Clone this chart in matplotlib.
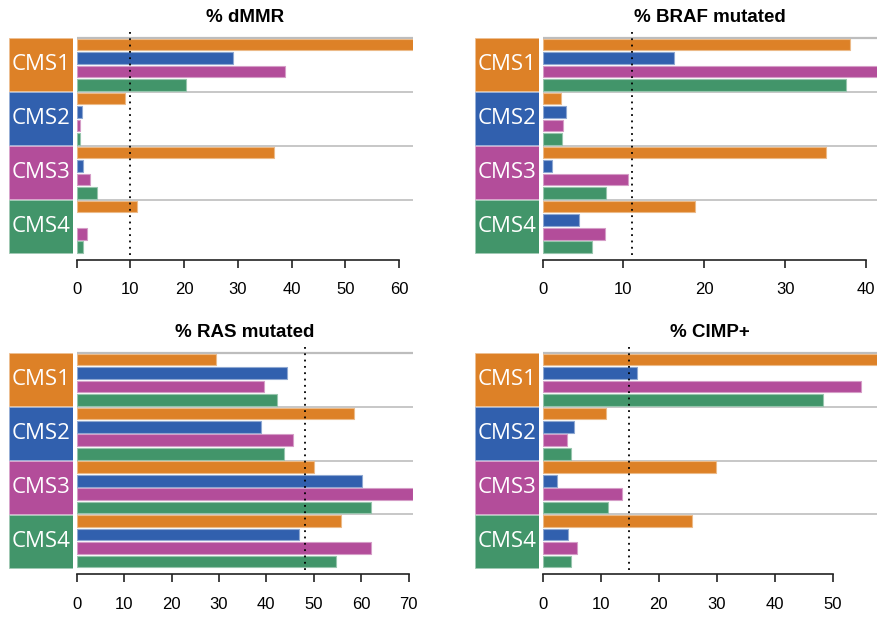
import matplotlib
matplotlib.use("Agg")
import matplotlib.pyplot as plt
from matplotlib.patches import Rectangle
import matplotlib.colors as mcolors
import numpy as np

W, H = 878, 620
groups = ["CMS1", "CMS2", "CMS3", "CMS4"]
colors = ["#DD8127", "#3160AE", "#B34D9A", "#42956A"]

titles = ["% dMMR", "% BRAF mutated", "% RAS mutated", "% CIMP+"]

# values[group][series]  series order: orange, blue, magenta, green
dmmr = [[65.0, 29.0, 38.7, 20.3],
        [8.9, 0.9, 0.55, 0.55],
        [36.7, 1.1, 2.4, 3.7],
        [11.2, 0.0, 2.0, 1.2]]
braf = [[38.0, 16.2, 43.0, 37.5],
        [2.3, 2.9, 2.5, 2.4],
        [35.1, 1.2, 10.6, 7.8],
        [18.8, 4.5, 7.7, 6.1]]
ras = [[29.4, 44.4, 39.6, 42.2],
       [58.5, 38.9, 45.7, 43.8],
       [50.0, 60.2, 71.0, 62.0],
       [55.7, 46.9, 62.0, 54.8]]
cimp = [[60.0, 16.2, 54.9, 48.3],
        [10.9, 5.4, 4.2, 4.8],
        [29.9, 2.4, 13.7, 11.3],
        [25.7, 4.4, 5.9, 4.8]]
means = [10.0, 11.1, 48.2, 14.9]
xmax = [62.65, 41.5, 71.0, 57.8]
ticks = [[0, 10, 20, 30, 40, 50, 60],
         [0, 10, 20, 30, 40],
         [0, 10, 20, 30, 40, 50, 60, 70],
         [0, 10, 20, 30, 40, 50]]
data = [dmmr, braf, ras, cimp]

# layout in pixels
panels = [
    dict(box_l=8.7, box_r=73.3, plot_l=76.7, plot_r=413.3, top=37.7, bot=254.0, title_y=18),
    dict(box_l=475.0, box_r=539.3, plot_l=542.7, plot_r=878.0, top=37.7, bot=254.0, title_y=18),
    dict(box_l=8.7, box_r=73.3, plot_l=76.7, plot_r=413.3, top=352.7, bot=568.3, title_y=332.7),
    dict(box_l=475.0, box_r=539.3, plot_l=542.7, plot_r=878.0, top=352.7, bot=568.3, title_y=332.7),
]

fig = plt.figure(figsize=(W / 100, H / 100), dpi=100)


def lighten(c, f=0.45):
    r, g, b = mcolors.to_rgb(c)
    return (r + (1 - r) * f, g + (1 - g) * f, b + (1 - b) * f)


for p, (lay, vals, title, mean, xm, tk) in enumerate(zip(panels, data, titles, means, xmax, ticks)):
    unit = (lay["bot"] - lay["top"]) / 4.0
    y_top_data = -0.14
    y_bot_data = 4.0 + 6.0 / unit
    ax_top_px = lay["top"] + y_top_data * unit
    ax_bot_px = lay["bot"] + (y_bot_data - 4.0) * unit
    ax = fig.add_axes([lay["plot_l"] / W, 1 - ax_bot_px / H,
                       (lay["plot_r"] - lay["plot_l"]) / W, (ax_bot_px - ax_top_px) / H])
    ax.set_xlim(0, xm)
    ax.set_ylim(y_bot_data, y_top_data)

    # group separator lines
    for g in range(4):
        ax.axhline(g, color="#bdbdbd", lw=1.6 if g == 0 else 1.2, zorder=1)

    # bars
    for g in range(4):
        for s in range(4):
            v = vals[g][s]
            if v <= 0:
                continue
            ax.barh(g + (s + 0.5) / 4.0, v, height=0.215, color=colors[s],
                    edgecolor=lighten(colors[s]), linewidth=0.8, zorder=2)

    # mean dotted line
    ax.plot([mean, mean], [-0.11, 4.07], color="black", lw=1.3,
            linestyle=(0, (1, 2.5)), zorder=3)

    for sp in ["top", "right", "left"]:
        ax.spines[sp].set_visible(False)
    ax.spines["bottom"].set_bounds(tk[0], tk[-1])
    ax.spines["bottom"].set_linewidth(1.2)
    ax.spines["bottom"].set_color("#222222")
    ax.set_yticks([])
    ax.set_xticks(tk)
    ax.set_xticklabels([str(t) for t in tk], fontsize=12, family="Liberation Sans")
    ax.tick_params(axis="x", direction="out", length=6, width=1.2, color="#222222", pad=10)
    ax.patch.set_visible(False)

    fig.text((lay["plot_l"] + lay["plot_r"]) / 2 / W, 1 - lay["title_y"] / H, title,
             fontsize=13.5, fontweight="bold", family="Liberation Sans",
             ha="center", va="center")

    # label boxes
    bx = fig.add_axes([lay["box_l"] / W, 1 - ax_bot_px / H,
                       (lay["box_r"] - lay["box_l"]) / W, (ax_bot_px - ax_top_px) / H])
    bx.set_xlim(0, 1)
    bx.set_ylim(y_bot_data, y_top_data)
    bx.axis("off")
    for g in range(4):
        bx.add_patch(Rectangle((0, g + 0.01), 1, 0.98, facecolor=colors[g],
                               edgecolor=lighten(colors[g], 0.5), linewidth=0.6))
        bx.text(0.5, g + 0.5, groups[g], color="white", fontsize=16,
                family="Open Sans", ha="center", va="center")

fig.savefig("out.png", dpi=100)
